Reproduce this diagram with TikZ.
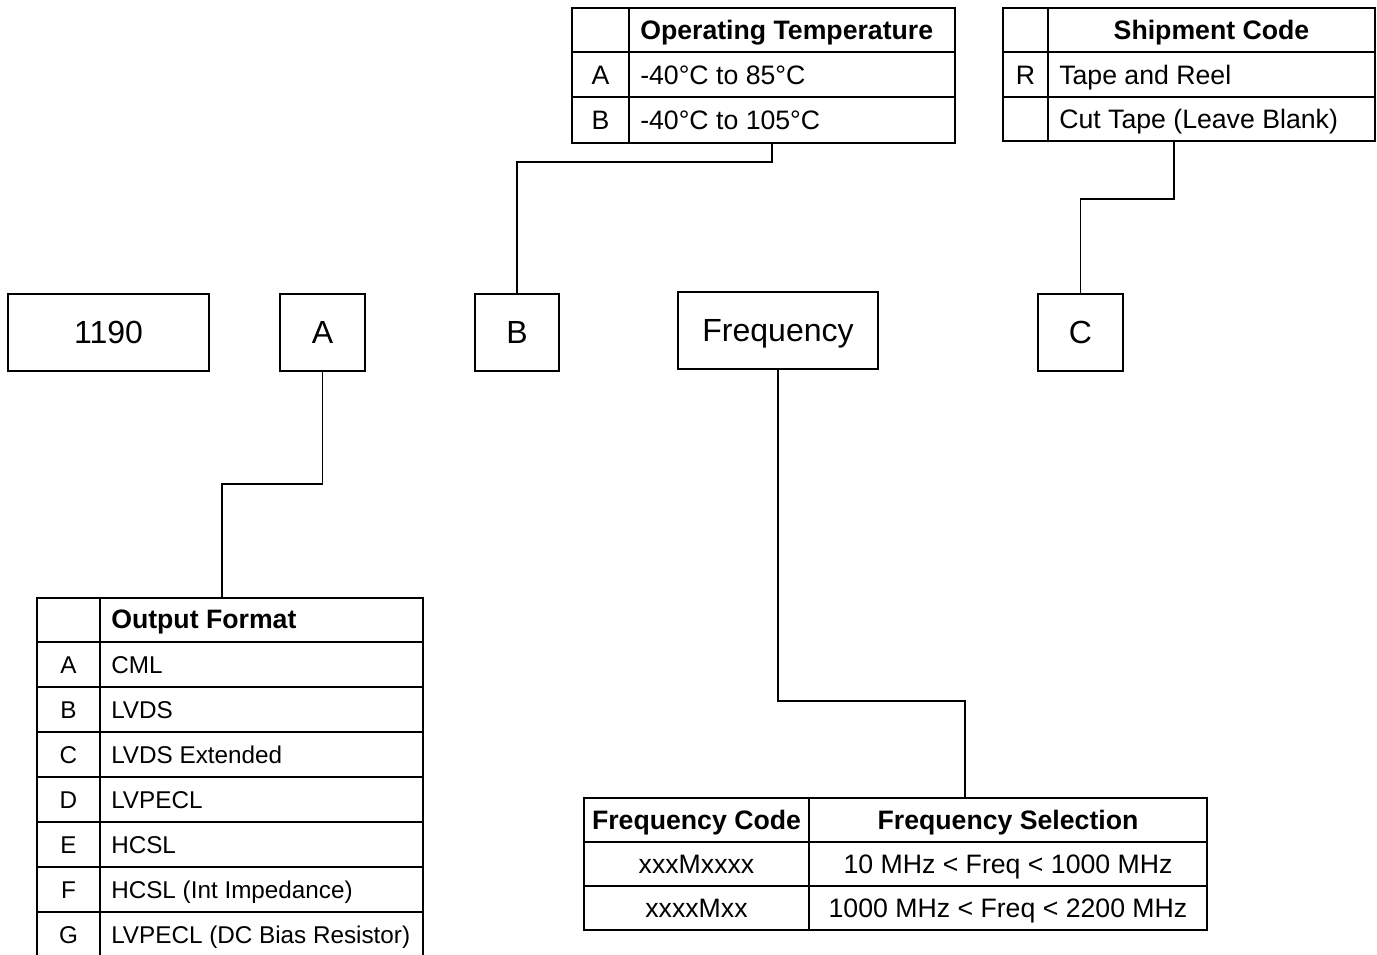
\documentclass[tikz,border=0pt]{standalone}
\usepackage{fontspec}
\setmainfont{Liberation Sans}
\begin{document}
\newcommand{\cellL}[6]{%
  \draw[grid] (#2,#3) rectangle (#4,#5);
  \node[txt,anchor=west] (#1) at ({#2+11},{(#3+#5)/2}) {#6};}
\newcommand{\cellC}[6]{%
  \draw[grid] (#2,#3) rectangle (#4,#5);
  \node[txt] (#1) at ({(#2+#4)/2},{(#3+#5)/2}) {#6};}
\begin{tikzpicture}[x=0.75pt,y=-0.75pt,
  grid/.style={draw=black,line width=1pt},
  big/.style={inner sep=0pt,font=\fontsize{20}{24}\selectfont,text height=14.3pt,text depth=0pt},
  small/.style={inner sep=0pt,font=\fontsize{18.2}{22}\selectfont,text height=13.0pt,text depth=0pt},
  txt/.style={big},
  topbox/.style={draw=black,line width=1pt,inner sep=0pt,minimum height=77*0.75pt,
     font=\fontsize{24}{28}\selectfont,text height=17.2pt,text depth=0pt},
  conn/.style={draw=black,line width=1pt}]
\useasboundingbox (0,0) rectangle (1377,955);

% top-level boxes
\node[topbox,minimum width=201*0.75pt] (n1190) at (108.5,332.5) {1190};
\node[topbox,minimum width=85*0.75pt] (boxA) at (322.5,332.5) {A};
\node[topbox,minimum width=84*0.75pt] (boxB) at (517,332.5) {B};
\node[topbox,minimum width=200*0.75pt] (boxF) at (778,330.5) {Frequency};
\node[topbox,minimum width=85*0.75pt] (boxC) at (1080.5,332.5) {C};

% Operating Temperature table
\cellC{otk0}{572}{8}{629}{52}{}
\cellL{oth}{629}{8}{955}{52}{\bfseries Operating Temperature}
\cellC{otk1}{572}{52}{629}{97}{A}
\cellL{otv1}{629}{52}{955}{97}{-40°C to 85°C}
\cellC{otk2}{572}{97}{629}{143}{B}
\cellL{otv2}{629}{97}{955}{143}{-40°C to 105°C}
\coordinate (otin) at (772,143);

% Shipment Code table
\cellC{sck0}{1003}{8}{1048}{52}{}
\cellC{sch}{1048}{8}{1375}{52}{\bfseries Shipment Code}
\cellC{sck1}{1003}{52}{1048}{97}{R}
\cellL{scv1}{1048}{52}{1375}{97}{Tape and Reel}
\cellC{sck2}{1003}{97}{1048}{141}{}
\cellL{scv2}{1048}{97}{1375}{141}{Cut Tape (Leave Blank)}
\coordinate (scin) at (1174,141);

% Output Format table
\begin{scope}[txt/.style={small}]
\cellC{ofk0}{37}{598}{100}{642}{}
\cellL{ofh}{100}{598}{423}{642}{\fontsize{20}{24}\selectfont\bfseries Output Format}
\cellC{ofk1}{37}{642}{100}{687}{A}
\cellL{ofv1}{100}{642}{423}{687}{CML}
\cellC{ofk2}{37}{687}{100}{732}{B}
\cellL{ofv2}{100}{687}{423}{732}{LVDS}
\cellC{ofk3}{37}{732}{100}{777}{C}
\cellL{ofv3}{100}{732}{423}{777}{LVDS Extended}
\cellC{ofk4}{37}{777}{100}{822}{D}
\cellL{ofv4}{100}{777}{423}{822}{LVPECL}
\cellC{ofk5}{37}{822}{100}{867}{E}
\cellL{ofv5}{100}{822}{423}{867}{HCSL}
\cellC{ofk6}{37}{867}{100}{912}{F}
\cellL{ofv6}{100}{867}{423}{912}{HCSL (Int Impedance)}
\cellC{ofk7}{37}{912}{100}{958}{G}
\cellL{ofv7}{100}{912}{423}{958}{LVPECL (DC Bias Resistor)}
\end{scope}
\coordinate (ofin) at (222,598);

% Frequency table
\cellC{fqh1}{584}{798}{809}{842}{\bfseries Frequency Code}
\cellC{fqh2}{809}{798}{1207}{842}{\bfseries Frequency Selection}
\cellC{fqk1}{584}{842}{809}{886}{xxxMxxxx}
\cellC{fqv1}{809}{842}{1207}{886}{10 MHz < Freq < 1000 MHz}
\cellC{fqk2}{584}{886}{809}{930}{xxxxMxx}
\cellC{fqv2}{809}{886}{1207}{930}{1000 MHz < Freq < 2200 MHz}
\coordinate (fqin) at (965,798);

% connectors
\draw[conn] (boxA.south) |- (ofin |- 0,484) -- (ofin);
\draw[conn] (boxB.north) |- (otin |- 0,162) -- (otin);
\draw[conn] (boxC.north) |- (scin |- 0,199) -- (scin);
\draw[conn] (boxF.south) |- (fqin |- 0,701) -- (fqin);
\end{tikzpicture}
\end{document}
